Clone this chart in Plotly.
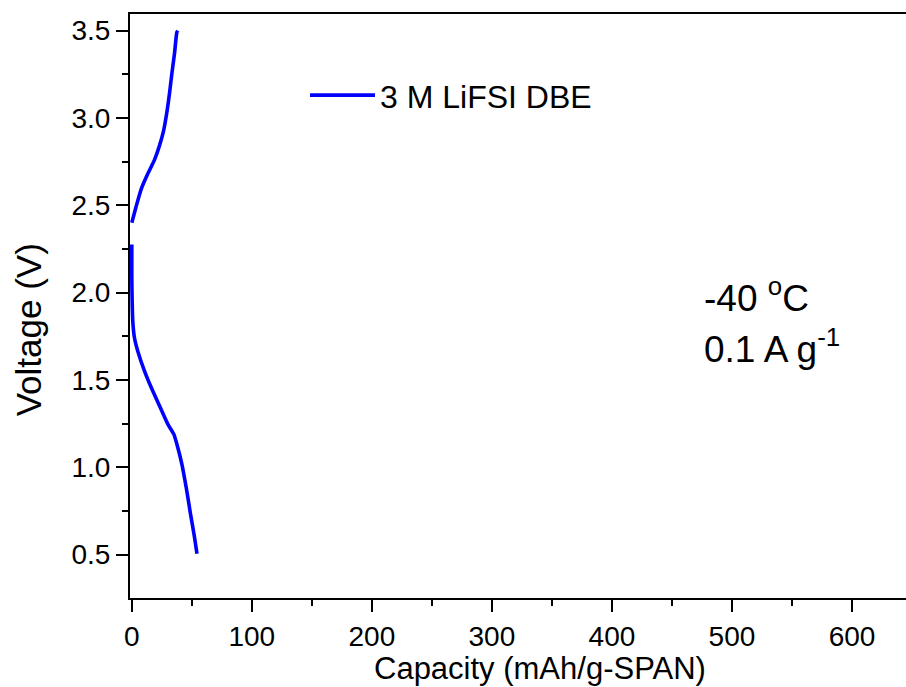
import plotly.graph_objects as go

# Charge branch (capacity mAh/g-SPAN, voltage V)
charge_cap = [0.0, 3.5, 7.7, 13.3, 18.9, 23.0, 26.6, 29.5, 31.4, 33.4, 35.6, 37.5, 38.3]
charge_v = [2.40, 2.49, 2.59, 2.68, 2.76, 2.84, 2.93, 3.045, 3.14, 3.255, 3.37, 3.49, 3.50]

# Discharge branch
discharge_cap = [0.0, 0.0, 0.3, 0.8, 2.2, 5.0, 10.6, 16.2, 23.1, 30.0, 35.0, 38.3, 41.7, 45.3, 48.9, 52.0, 54.3]
discharge_v = [2.275, 2.10, 1.95, 1.837, 1.742, 1.665, 1.551, 1.457, 1.352, 1.247, 1.19, 1.114, 1.019, 0.886, 0.733, 0.61, 0.505]

series_name = "3 M LiFSI DBE"
x_ticks = [0, 100, 200, 300, 400, 500, 600]
y_ticks = [0.5, 1.0, 1.5, 2.0, 2.5, 3.0, 3.5]

FONT = "Arial, Liberation Sans, sans-serif"
BLUE = "#0000FF"

fig = go.Figure()
fig.add_trace(go.Scatter(x=charge_cap, y=charge_v, mode="lines", name=series_name,
                         line=dict(color=BLUE, width=3.6, shape="spline", smoothing=0.5),
                         showlegend=True))
fig.add_trace(go.Scatter(x=discharge_cap, y=discharge_v, mode="lines", name=series_name,
                         line=dict(color=BLUE, width=3.6, shape="spline", smoothing=0.5),
                         showlegend=False))

fig.update_layout(
    width=906, height=687,
    margin=dict(l=130, r=0, t=14, b=89),
    paper_bgcolor="white", plot_bgcolor="white",
    font=dict(family=FONT, color="black"),
    showlegend=True,
    legend=dict(x=(305 - 130) / 776, y=(597.7 - 95) / 584, xanchor="left", yanchor="middle",
                font=dict(size=32, family=FONT, color="black"),
                bgcolor="rgba(0,0,0,0)", itemwidth=65),
)
fig.update_xaxes(
    range=[-1.5, 645], tickvals=x_ticks, ticktext=[str(t) for t in x_ticks],
    showline=True, linecolor="black", linewidth=2, mirror=True,
    ticks="outside", ticklen=12, tickwidth=2, tickcolor="black",
    minor=dict(dtick=50, tick0=0, ticks="outside", ticklen=6, tickwidth=2, tickcolor="black"),
    tickfont=dict(size=28, family=FONT, color="black"),
    showgrid=False, zeroline=False,
)
fig.update_yaxes(
    range=[0.252, 3.595], tickvals=y_ticks, ticktext=[f"{t:.1f}" for t in y_ticks],
    showline=True, linecolor="black", linewidth=2, mirror=False,
    ticks="outside", ticklen=12, tickwidth=2, tickcolor="black",
    minor=dict(dtick=0.25, tick0=0, ticks="outside", ticklen=6, tickwidth=2, tickcolor="black"),
    tickfont=dict(size=28, family=FONT, color="black"),
    showgrid=False, zeroline=False,
)

fig.add_annotation(text="Capacity (mAh/g-SPAN)", xref="paper", yref="paper",
                   x=(540 - 130) / 776, y=-(668.5 - 597.7) / 584, xanchor="center", yanchor="middle",
                   showarrow=False, font=dict(size=31, family=FONT, color="black"))
fig.add_annotation(text="Voltage (V)", xref="paper", yref="paper",
                   x=-(130 - 28) / 776, y=(597.7 - 330) / 584, xanchor="center", yanchor="middle",
                   textangle=-90,
                   showarrow=False, font=dict(size=35, family=FONT, color="black"))
fig.add_annotation(text="-40 <sup>o</sup>C", xref="paper", yref="paper",
                   x=(702 - 130) / 776, y=(597.7 - 295) / 584, xanchor="left", yanchor="middle",
                   showarrow=False, font=dict(size=37, family=FONT, color="black"))
fig.add_annotation(text="0.1 A g<sup>-1</sup>", xref="paper", yref="paper",
                   x=(702 - 130) / 776, y=(597.7 - 346) / 584, xanchor="left", yanchor="middle",
                   showarrow=False, font=dict(size=37, family=FONT, color="black"))

fig.write_html("out.html")
